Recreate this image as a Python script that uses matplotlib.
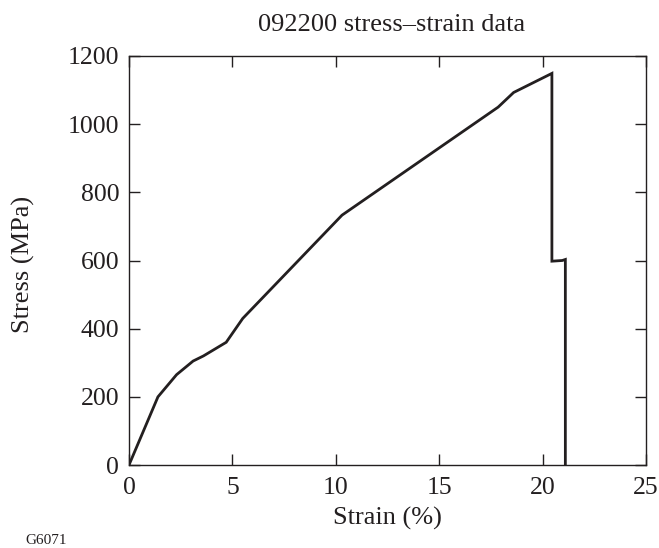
import matplotlib
matplotlib.use("Agg")
import matplotlib.pyplot as plt

# stress-strain curve
strain = [0.0, 1.4, 2.3, 3.1, 3.6, 4.7, 5.5, 10.3, 17.85, 18.6, 20.45, 20.45, 20.95, 21.1, 21.1]
stress = [0, 200, 265, 305, 320, 360, 430, 733, 1050, 1093, 1149, 598, 600, 603, 0]

xticks = [0, 5, 10, 15, 20, 25]
yticks = [0, 200, 400, 600, 800, 1000, 1200]

ink = "#231f20"
plt.rcParams["font.family"] = ["Liberation Serif", "DejaVu Serif"]

W, H = 659, 548
fig = plt.figure(figsize=(W / 100, H / 100), dpi=100)
ax = fig.add_axes([129 / W, 1 - 465 / H, 517 / W, 409 / H])

ax.plot(strain, stress, color=ink, lw=2.0, solid_joinstyle="miter")

ax.set_xlim(0, 25)
ax.set_ylim(0, 1200)
ax.set_xticks(xticks)
ax.set_yticks(yticks)
ax.tick_params(direction="in", length=8, width=1, color=ink, labelcolor=ink,
               labelsize=18.5, top=True, right=True)
ax.tick_params(axis="x", pad=9)
ax.tick_params(axis="y", pad=7)
for s in ax.spines.values():
    s.set_linewidth(1.0)
    s.set_color(ink)

ax.set_xlabel("Strain (%)", fontsize=19, color=ink, va="center", ha="center")
ax.set_ylabel("Stress (MPa)", fontsize=19, color=ink, va="center", ha="center")
ax.xaxis.set_label_coords(0.5, (465 - 518) / 409)
ax.yaxis.set_label_coords((23 - 129) / 517, 0.49)

fig.text(392 / W, 1 - 25 / H, "092200 stress\u2013strain data", fontsize=19,
         color=ink, ha="center", va="center")
fig.text(25 / W, 1 - 540 / H, "G6071", fontsize=11, color=ink, va="center")

plt.savefig("out.png", dpi=100)
plt.close()
